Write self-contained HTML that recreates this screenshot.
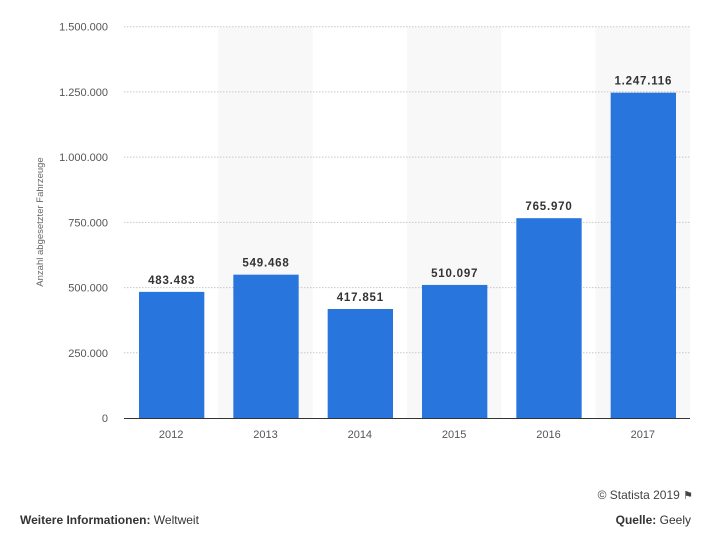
<!DOCTYPE html>
<html><head><meta charset="utf-8"><style>
body{margin:0;width:703px;height:535px;background:#fff;font-family:"Liberation Sans",sans-serif;position:relative;overflow:hidden}
svg{position:absolute;left:0;top:0}
.ft{position:absolute;font-size:12px;color:#333}
</style></head><body>
<svg width="703" height="535" id="chart"></svg>
<div class="ft" style="right:10px;top:488px;color:#444">© Statista 2019 <span style="font-size:11px">&#9873;</span></div>
<div class="ft" style="left:20px;top:513px"><b>Weitere Informationen:</b> Weltweit</div>
<div class="ft" style="right:12px;top:513px"><b>Quelle:</b> Geely</div>
<script>
const categories=["2012","2013","2014","2015","2016","2017"];
const values=[483483,549468,417851,510097,765970,1247116];
const valueLabels=["483.483","549.468","417.851","510.097","765.970","1.247.116"];
const ticks=[0,250000,500000,750000,1000000,1250000,1500000];
const tickLabels=["0","250.000","500.000","750.000","1.000.000","1.250.000","1.500.000"];
const NS="http://www.w3.org/2000/svg",svg=document.getElementById('chart');
const x0=124,x1=690,y0=418,yTop=26.7,max=1500000;
const bw=(x1-x0)/categories.length;
const y=v=>y0-(v/max)*(y0-yTop);
function mk(t,a,p){const e=document.createElementNS(NS,t);for(const k in a)e.setAttribute(k,a[k]);(p||svg).appendChild(e);return e;}
categories.forEach((c,i)=>{if(i%2==1){const r=mk('rect',{x:x0+i*bw,y:yTop,width:bw,height:y0-yTop,fill:'#f8f8f8'});

}});
ticks.forEach((t,i)=>{
if(i>0){const l=mk('line',{x1:x0,x2:x1,y1:y(t),y2:y(t),stroke:'#c8c8c8','stroke-dasharray':'1.5,1.5'});

}
const tx=mk('text',{x:108,y:y(t)+4,'text-anchor':'end','font-size':'11',fill:'#555'});tx.textContent=tickLabels[i];


});
const ax=mk('line',{x1:x0,x2:x1,y1:y0+0.5,y2:y0+0.5,stroke:'#333'});


categories.forEach((c,i)=>{
const bx=x0+i*bw+15,w=bw-29;
const r=mk('rect',{x:bx,y:y(values[i]),width:w,height:y0-y(values[i]),fill:'#2876dd'});


const v=mk('text',{x:bx+w/2,y:y(values[i])-8,'text-anchor':'middle','font-size':'11.5','font-weight':'bold',fill:'#333','letter-spacing':'0.8'});v.textContent=valueLabels[i];


const t=mk('text',{x:x0+i*bw+bw/2,y:438,'text-anchor':'middle','font-size':'11',fill:'#555'});t.textContent=c;


});
const yt=mk('text',{x:0,y:0,transform:'translate(43,222) rotate(-90)','text-anchor':'middle','font-size':'9.5',fill:'#666'});yt.textContent='Anzahl abgesetzter Fahrzeuge';


</script>
</body></html>
